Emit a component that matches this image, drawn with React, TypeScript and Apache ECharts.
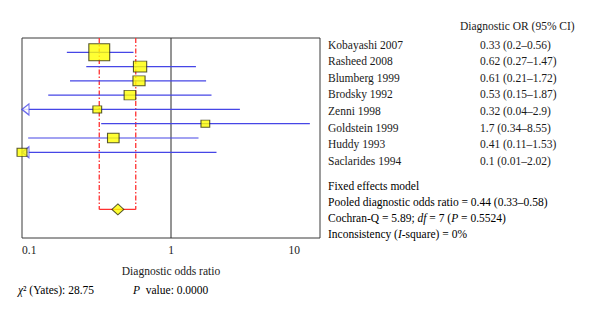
import React, { useEffect, useRef } from 'react';
import * as echarts from 'echarts';

const studies = ['Kobayashi 2007', 'Rasheed 2008', 'Blumberg 1999', 'Brodsky 1992', 'Zenni 1998', 'Goldstein 1999', 'Huddy 1993', 'Saclarides 1994'];
const oddsRatio = [0.33, 0.62, 0.61, 0.53, 0.32, 1.7, 0.41, 0.1];
const ciLow = [0.2, 0.27, 0.21, 0.15, 0.04, 0.34, 0.11, 0.01];
const ciHigh = [0.56, 1.47, 1.72, 1.87, 2.9, 8.55, 1.53, 2.02];
const weights = [34.1, 13.7, 11.5, 10.5, 6.0, 6.0, 10.5, 7.7];
const orLabels = ['0.33 (0.2–0.56)', '0.62 (0.27–1.47)', '0.61 (0.21–1.72)', '0.53 (0.15–1.87)', '0.32 (0.04–2.9)', '1.7 (0.34–8.55)', '0.41 (0.11–1.53)', '0.1 (0.01–2.02)'];
const pooledOR = 0.44;
const pooledLow = 0.33;
const pooledHigh = 0.58;
const axisMin = 0.1;
const axisMax = 10;
const headerText = 'Diagnostic OR (95% CI)';
const modelTitle = 'Fixed effects model';
const pooledText = 'Pooled diagnostic odds ratio = 0.44 (0.33–0.58)';
const cochranText = '{n|Cochran-Q = 5.89; }{i|df}{n| = 7 (}{i|P}{n| = 0.5524)}';
const inconsistencyText = '{n|Inconsistency (}{i|I}{n|-square) = 0%}';
const chiText = '{i|χ}{n|² (Yates): 28.75}';
const pText = '{i|P}{n|  value: 0.0000}';

const FONT = "'Liberation Serif', 'DejaVu Serif', serif";
const TXT = '#1a1a1a';
const RED = '#ff3030';

export default function App() {
  const ref = useRef<HTMLDivElement>(null);
  useEffect(() => {
    document.body.style.margin = '0';
    const chart = echarts.init(ref.current!, null, { renderer: 'svg' });
    const n = studies.length;
    const pooledRow = n + 3;

    const ciSeries = studies.map((s, i) => ({
      type: 'line',
      name: s,
      data: [[Math.max(ciLow[i], axisMin), i], [Math.min(ciHigh[i], axisMax), i]],
      symbol: 'none',
      color: '#4646e6',
      lineStyle: { color: '#4646e6', width: 1.2 },
      z: 3,
    }));

    const arrows = studies
      .map((s, i) => (ciLow[i] < axisMin ? [axisMin, i] : null))
      .filter((d) => d !== null);

    const boxes = studies.map((s, i) => {
      const side = Math.sqrt(weights[i]) * 3.25;
      return { value: [oddsRatio[i], i], symbolSize: [side * 1.1, side * 0.9] };
    });

    const rich = {
      n: { fontFamily: FONT, fontSize: 11.5, color: TXT },
      i: { fontFamily: FONT, fontSize: 11.5, color: TXT, fontStyle: 'italic' },
    };

    const graphics: any[] = [];
    graphics.push({ type: 'text', x: 460, y: 26, style: { text: headerText, font: `11.5px ${FONT}`, fill: TXT, verticalAlign: 'middle' } });
    studies.forEach((s, i) => {
      const y = 44.5 + i * 16.6;
      graphics.push({ type: 'text', x: 328, y, style: { text: s, font: `11.5px ${FONT}`, fill: TXT, verticalAlign: 'middle' } });
      graphics.push({ type: 'text', x: 480, y, style: { text: orLabels[i], font: `11.5px ${FONT}`, fill: TXT, verticalAlign: 'middle' } });
    });
    const summary = [modelTitle, pooledText, cochranText, inconsistencyText];
    summary.forEach((t, j) => {
      graphics.push({ type: 'text', x: 328, y: 186 + j * 16, style: { text: t.startsWith('{') ? t : `{n|${t}}`, rich, verticalAlign: 'middle' } });
    });
    graphics.push({ type: 'text', x: 18, y: 290, style: { text: chiText, rich, verticalAlign: 'middle' } });
    graphics.push({ type: 'text', x: 133, y: 290, style: { text: pText, rich, verticalAlign: 'middle' } });

    const redDash = (x: number) => ({
      type: 'line',
      data: [[x, -1], [x, pooledRow]],
      symbol: 'none',
      color: RED,
      lineStyle: { color: RED, width: 1.3, type: [5, 2, 1.5, 2], opacity: 1 },
      z: 2,
    });

    chart.setOption({
      animation: false,
      grid: { left: 22, right: 280, top: 38, height: 200, show: true, borderColor: '#3a3a3a', borderWidth: 1, backgroundColor: 'transparent' },
      xAxis: {
        type: 'log',
        logBase: 10,
        min: axisMin,
        max: axisMax,
        axisLine: { show: false },
        axisTick: { show: false },
        splitLine: { show: false },
        axisLabel: {
          margin: 6,
          alignMinLabel: 'left',
          alignMaxLabel: 'right',
          formatter: (v: number) => {
            const r = Math.round(v * 100) / 100;
            if (r === 10) return '{r|10}';
            return '{n|' + String(r) + '}';
          },
          rich: {
            n: { fontFamily: FONT, fontSize: 11.5, color: TXT },
            r: { fontFamily: FONT, fontSize: 11.5, color: TXT, padding: [0, 20, 0, 0] },
          },
        },
        name: 'Diagnostic odds ratio',
        nameLocation: 'middle',
        nameGap: 27,
        nameTextStyle: { fontFamily: FONT, fontSize: 11.5, color: TXT },
      },
      yAxis: { type: 'value', inverse: true, min: -1, max: 13, show: false },
      graphic: graphics,
      series: [
        {
          type: 'line',
          data: [[1, -1], [1, 13]],
          symbol: 'none',
          color: '#2a2a2a',
          lineStyle: { color: '#2a2a2a', width: 1 },
          z: 2,
        },
        redDash(pooledLow),
        redDash(pooledHigh),
        {
          type: 'line',
          data: [[pooledLow, pooledRow], [pooledHigh, pooledRow]],
          symbol: 'none',
          color: RED,
          lineStyle: { color: RED, width: 1.2 },
          z: 2,
        },
        ...ciSeries,
        {
          type: 'scatter',
          data: arrows,
          symbol: 'triangle',
          symbolSize: [11, 7],
          symbolRotate: 90,
          symbolOffset: [3.5, 0],
          itemStyle: { color: '#ffffff', borderColor: '#4646e6', borderWidth: 1.2 },
          z: 4,
        },
        {
          type: 'scatter',
          data: boxes,
          symbol: 'rect',
          itemStyle: { color: '#ffff00', borderColor: '#2e2e10', borderWidth: 1 },
          z: 5,
        },
        {
          type: 'scatter',
          data: [[pooledOR, pooledRow]],
          symbol: 'diamond',
          symbolSize: [12, 11],
          itemStyle: { color: '#ffff00', borderColor: '#2e2e10', borderWidth: 1 },
          z: 5,
        },
      ],
    });
    return () => chart.dispose();
  }, []);
  return <div ref={ref} style={{ width: 600, height: 317 }} />;
}
